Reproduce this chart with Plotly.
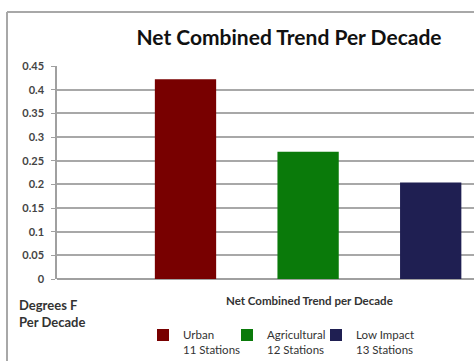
import plotly.graph_objects as go

# ---- data ----
categories = ["Urban", "Agricultural", "Low Impact"]
series_names = ["Urban<br>11 Stations", "Agricultural<br>12 Stations", "Low Impact<br>13 Stations"]
series_values = [0.422, 0.269, 0.204]
series_colors = ["#780000", "#0a7a0a", "#1f1f52"]
axis_label = "Net Combined Trend per Decade"
y_ticks = [0, 0.05, 0.1, 0.15, 0.2, 0.25, 0.3, 0.35, 0.4, 0.45]

W, H = 474, 361
L, T, B = 57, 66, 82
R = 0
plot_w = W - L - R
plot_h = H - T - B

def px_x(x):
    return (x - L) / plot_w

def px_y(y):
    return (H - B - y) / plot_h

legend_ids = ["legend", "legend2", "legend3"]
legend_left_px = [143, 227, 316]

fig = go.Figure()
for cat, name, val, col, lg in zip(categories, series_names, series_values, series_colors, legend_ids):
    fig.add_trace(go.Bar(x=[cat], y=[val], name=name, marker_color=col,
                         marker_line_width=0, width=0.5, legend=lg))

legend_style = dict(orientation="v", yanchor="top", xanchor="left", valign="top",
                    font=dict(family="Lato", size=11.5, color="#333333"),
                    itemwidth=30, bgcolor="rgba(0,0,0,0)", borderwidth=0)
legend_layout = {lg: dict(x=px_x(xp), y=px_y(321), **legend_style)
                 for lg, xp in zip(legend_ids, legend_left_px)}

# category pitch ~122.6 px; first bar centred ~185.5 px; chart cropped on the right
pitch = 122.6
first_c = 185.5
x_lo = -(first_c - L) / pitch
x_hi = (W - R - first_c) / pitch

fig.update_layout(
    width=W, height=H,
    margin=dict(l=L, r=R, t=T, b=B, autoexpand=False),
    paper_bgcolor="white", plot_bgcolor="white",
    barmode="overlay",
    hovermode=False,
    font=dict(family="Lato", color="#333333"),
    title=dict(text="<b>Net Combined Trend Per Decade</b>",
               x=289 / W, xanchor="center", y=1 - 38 / H, yanchor="middle",
               xref="container", yref="container",
               font=dict(family="Lato", size=21, color="#111111")),
    xaxis=dict(type="category", categoryarray=categories, range=[x_lo, x_hi],
               showticklabels=False, showgrid=False, zeroline=False,
               showline=False, ticks="", fixedrange=True),
    yaxis=dict(range=[0, 0.45], tickvals=y_ticks,
               ticktext=[f"{v:g}" for v in y_ticks],
               showgrid=True, gridcolor="#a8a8a8", gridwidth=1.5,
               zeroline=True, zerolinecolor="#a0a0a0", zerolinewidth=1.5,
               showline=True, linecolor="#a0a0a0", linewidth=1.5,
               ticks="outside", ticklen=4, tickcolor="#a0a0a0",
               ticklabelstandoff=5, fixedrange=True,
               tickfont=dict(family="Lato", size=11, color="#444444", weight="bold")),
    showlegend=True,
    **legend_layout,
)

fig.add_annotation(text=f"<b>{axis_label}</b>", xref="paper", yref="paper",
                   x=px_x(309), y=px_y(300), xanchor="center", yanchor="middle",
                   showarrow=False, font=dict(family="Lato", size=11.5, color="#333333"))
fig.add_annotation(text="<b>Degrees F<br>Per Decade</b>", xref="paper", yref="paper",
                   x=px_x(17), y=px_y(295), xanchor="left", yanchor="top",
                   align="left", showarrow=False,
                   font=dict(family="Lato", size=13, color="#333333"))

# chart frame (left and top edges; right/bottom cropped)
frame = dict(color="#a8a8a8", width=2)
fig.add_shape(type="line", xref="paper", yref="paper",
              x0=px_x(7), y0=px_y(H), x1=px_x(7), y1=px_y(12), line=frame)
fig.add_shape(type="line", xref="paper", yref="paper",
              x0=px_x(7), y0=px_y(12), x1=px_x(W), y1=px_y(12), line=frame)

fig.write_html("out.html", config={"displayModeBar": False})
